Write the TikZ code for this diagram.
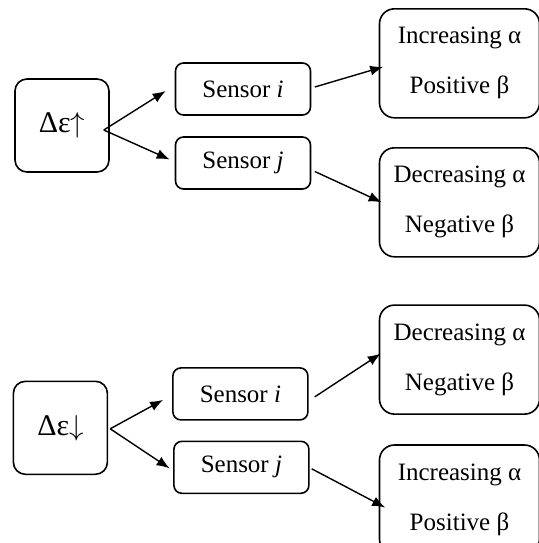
\documentclass[tikz,border=0pt]{standalone}
\usepackage{fontspec}
\setmainfont{Liberation Serif}
\usetikzlibrary{arrows.meta}

\begin{document}
\begin{tikzpicture}[x=0.5pt, y=-0.5pt,
  trig/.style={rectangle, rounded corners=6pt, draw=black, line width=0.8pt,
               minimum width=47pt, minimum height=46.5pt, inner sep=0pt,
               font=\fontsize{15}{17}\selectfont},
  sens/.style={rectangle, rounded corners=4pt, draw=black, line width=0.8pt,
               minimum width=67.5pt, minimum height=26pt, inner sep=0pt,
               font=\fontsize{12.5}{15}\selectfont},
  outc/.style={rectangle, rounded corners=7.5pt, draw=black, line width=0.8pt,
               minimum width=80pt, minimum height=54.5pt, inner sep=0pt,
               align=center, font=\fontsize{12.5}{25}\selectfont},
  arr/.style={-{Latex[length=6.5pt,width=5pt]}, line width=0.7pt, black}
]
  \useasboundingbox (0,0) rectangle (538,543);

  % rising strain
  \node[trig] (upE)  at (62,125.5)   {Δε$\uparrow$};
  \node[sens] (si1)  at (243,89)     {Sensor \textit{i}};
  \node[sens] (sj1)  at (243,163)    {Sensor \textit{j}};
  \node[outc] (res1a) at (459.5,63.3)  {Increasing α\\Positive β};
  \node[outc] (res1b) at (459.5,202.3) {Decreasing α\\Negative β};

  \draw[arr] ([shift={(-6,4.5)}]upE.east) -- ([shift={(-9,2)}]si1.west);
  \draw[arr] ([shift={(-6,4.5)}]upE.east) -- ([shift={(-5,-3.5)}]sj1.west);
  \draw[arr] ([shift={(3.5,-2)}]si1.east) -- ([shift={(4.5,3.5)}]res1a.west);
  \draw[arr] ([shift={(3.5,8.5)}]sj1.east) -- ([shift={(3,0)}]res1b.west);

  % falling strain
  \node[trig] (dnE)  at (60.4,427.8) {Δε$\downarrow$};
  \node[sens] (si2)  at (240.4,393.9) {Sensor \textit{i}};
  \node[sens] (sj2)  at (241.4,467.3) {Sensor \textit{j}};
  \node[outc] (res2a) at (459.5,359.6) {Decreasing α\\Negative β};
  \node[outc] (res2b) at (459.5,499.5) {Increasing α\\Positive β};

  \draw[arr] ([shift={(2,1)}]dnE.east) -- ([shift={(-9,6)}]si2.west);
  \draw[arr] ([shift={(2,1)}]dnE.east) -- ([shift={(-3.5,1)}]sj2.west);
  \draw[arr] ([shift={(6,3)}]si2.east) -- ([shift={(2,-6)}]res2a.west);
  \draw[arr] ([shift={(2,1.5)}]sj2.east) -- ([shift={(6.5,8)}]res2b.west);
\end{tikzpicture}
\end{document}
